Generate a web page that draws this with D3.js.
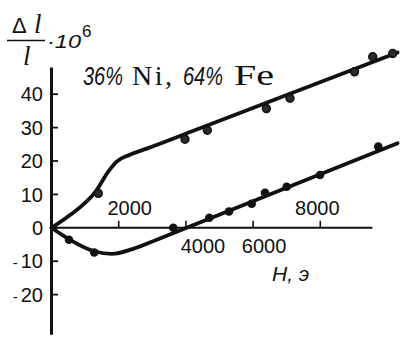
<!DOCTYPE html>
<html>
<head>
<meta charset="utf-8">
<script src="https://cdn.jsdelivr.net/npm/d3@7"></script>
<style>
  html, body { margin: 0; padding: 0; background: #fff; }
  svg { display: block; }
  text { fill: #111; }
</style>
</head>
<body>
<svg id="chart" width="405" height="345"></svg>
<script>
// Magnetostriction of invar (36% Ni, 64% Fe): relative elongation Δl/l ·10^6 versus field H (oersted)

// Smooth fitted curves (field H, Δl/l ·10^6)
const upperFitH = [0, 551, 1345, 1690, 1940, 2336, 2833, 4420, 10300];
const upperFitV = [0, 3.8, 11.3, 16.8, 19.8, 21.9, 23.7, 29.8, 52.5];
const lowerFitH = [0, 550, 1295, 1790, 2430, 3170, 10300];
const lowerFitV = [0, -3.6, -7.1, -7.8, -6.3, -3.4, 25.3];

// Measured points
const upperPtH = [1393, 3973, 4637, 6395, 7098, 9018, 9560, 10155];
const upperPtV = [10.3, 26.5, 29.2, 35.7, 38.8, 46.7, 51.2, 52.2];
const lowerPtH = [521, 1274, 3625, 4696, 5283, 5958, 6354, 7000, 7991, 9726];
const lowerPtV = [-3.6, -7.4, 0, 3.0, 4.9, 7.2, 10.5, 12.3, 15.8, 24.3];

// Axis ticks
const yTicks = [40, 30, 20, 10, 0, -10, -20];
const xTicks = [2000, 4000, 6000, 8000];

const ink = "#111";
const sans = "Liberation Sans, Arial, sans-serif";
const serif = "Liberation Serif, Times New Roman, serif";
const svg = d3.select("#chart");

const x = d3.scaleLinear().domain([0, 10000]).range([51.5, 387.5]);
const y = d3.scaleLinear().domain([-30, 50]).range([328, 60.8]);

// Axes lines
svg.append("line")
  .attr("x1", x(0)).attr("x2", x(0))
  .attr("y1", y(48)).attr("y2", y(-32))
  .attr("stroke", ink).attr("stroke-width", 3);
svg.append("line")
  .attr("x1", x(0)).attr("x2", x(9550))
  .attr("y1", y(0)).attr("y2", y(0))
  .attr("stroke", ink).attr("stroke-width", 2);

// Y ticks and labels
const yg = svg.append("g");
yg.selectAll("line").data(yTicks).join("line")
  .attr("x1", x(0)).attr("x2", x(0) + 6.5)
  .attr("y1", d => y(d)).attr("y2", d => y(d))
  .attr("stroke", ink).attr("stroke-width", 1.8);
yg.selectAll("text").data(yTicks).join("text")
  .attr("x", 43).attr("y", d => y(d)).attr("dy", "0.36em")
  .attr("text-anchor", "end")
  .attr("font-family", sans)
  .attr("font-size", 20)
  .each(function(d) {
    const t = d3.select(this);
    if (d < 0) {
      t.append("tspan").text("-").attr("font-size", 15);
      t.append("tspan").attr("dx", 3).text(String(-d));
    } else {
      t.text(String(d));
    }
  });

// X ticks (pointing up) and labels placed around the curves
const xLabelPlace = { 2000: { dx: 11, above: true }, 4000: { dx: 17, above: false },
                      6000: { dx: 11, above: false }, 8000: { dx: -3, above: true } };
const xg = svg.append("g");
xg.selectAll("line").data(xTicks).join("line")
  .attr("x1", d => x(d)).attr("x2", d => x(d))
  .attr("y1", y(0)).attr("y2", y(0) - 7)
  .attr("stroke", ink).attr("stroke-width", 1.6);
xg.selectAll("text").data(xTicks).join("text")
  .attr("x", d => x(d) + xLabelPlace[d].dx)
  .attr("y", d => xLabelPlace[d].above ? y(0) - 13 : y(0) + 25)
  .attr("text-anchor", "middle")
  .attr("font-family", sans)
  .attr("font-size", 20)
  .text(d => String(d));

// Axis title for H
svg.append("text")
  .attr("x", 272).attr("y", 281)
  .attr("font-family", sans)
  .attr("font-style", "italic")
  .attr("font-size", 21)
  .text("H, э");

// Y title: Δl / l · 10^6
const yt = svg.append("g");
yt.append("text").attr("x", 12).attr("y", 33).attr("font-family", sans).attr("font-size", 22).text("Δ");
yt.append("text").attr("x", 34).attr("y", 33).attr("font-family", serif)
  .attr("font-size", 27).attr("font-style", "italic").text("l");
yt.append("line").attr("x1", 7).attr("x2", 45).attr("y1", 40.5).attr("y2", 40.5)
  .attr("stroke", ink).attr("stroke-width", 1.5);
yt.append("text").attr("x", 23).attr("y", 65).attr("font-family", serif)
  .attr("font-size", 27).attr("font-style", "italic").text("l");
yt.append("text").attr("x", 47).attr("y", 48).attr("font-family", sans)
  .attr("font-style", "italic").attr("font-size", 19)
  .attr("textLength", 34).attr("lengthAdjust", "spacingAndGlyphs").text("·10");
yt.append("text").attr("x", 82).attr("y", 37).attr("font-family", sans)
  .attr("font-size", 17).text("6");

// Alloy annotation
const ann = svg.append("g");
const annBase = 85;
[
  { t: "36%", x0: 83, w: 40, font: sans, italic: true, size: 25, adj: "spacingAndGlyphs" },
  { t: "Ni,", x0: 132, w: 40, font: serif, italic: false, size: 28, adj: "spacing" },
  { t: "64%", x0: 183, w: 40, font: sans, italic: true, size: 25, adj: "spacingAndGlyphs" },
  { t: "Fe", x0: 234, w: 40, font: serif, italic: false, size: 30, adj: "spacingAndGlyphs" }
].forEach(p => {
  ann.append("text")
    .attr("x", p.x0).attr("y", annBase)
    .attr("font-family", p.font)
    .attr("font-style", p.italic ? "italic" : "normal")
    .attr("font-size", p.size)
    .attr("textLength", p.w).attr("lengthAdjust", p.adj)
    .text(p.t);
});

// Fitted curves
const line = d3.line().x(d => x(d[0])).y(d => y(d[1])).curve(d3.curveMonotoneX);
const upperFit = upperFitH.map((h, i) => [h, upperFitV[i]]);
const lowerFit = lowerFitH.map((h, i) => [h, lowerFitV[i]]);
[upperFit, lowerFit].forEach(pts => {
  svg.append("path").attr("d", line(pts))
    .attr("fill", "none").attr("stroke", ink)
    .attr("stroke-width", 3.8).attr("stroke-linecap", "round").attr("stroke-linejoin", "round");
});

// Measured points
const upperPts = upperPtH.map((h, i) => [h, upperPtV[i]]);
const lowerPts = lowerPtH.map((h, i) => [h, lowerPtV[i]]);
svg.append("g").selectAll("circle").data(upperPts).join("circle")
  .attr("cx", d => x(d[0])).attr("cy", d => y(d[1])).attr("r", 3.9)
  .attr("fill", "#2a2a2a").attr("stroke", ink).attr("stroke-width", 1.6);
svg.append("g").selectAll("circle").data(lowerPts).join("circle")
  .attr("cx", d => x(d[0])).attr("cy", d => y(d[1])).attr("r", 4.3)
  .attr("fill", ink);
</script>
</body>
</html>
